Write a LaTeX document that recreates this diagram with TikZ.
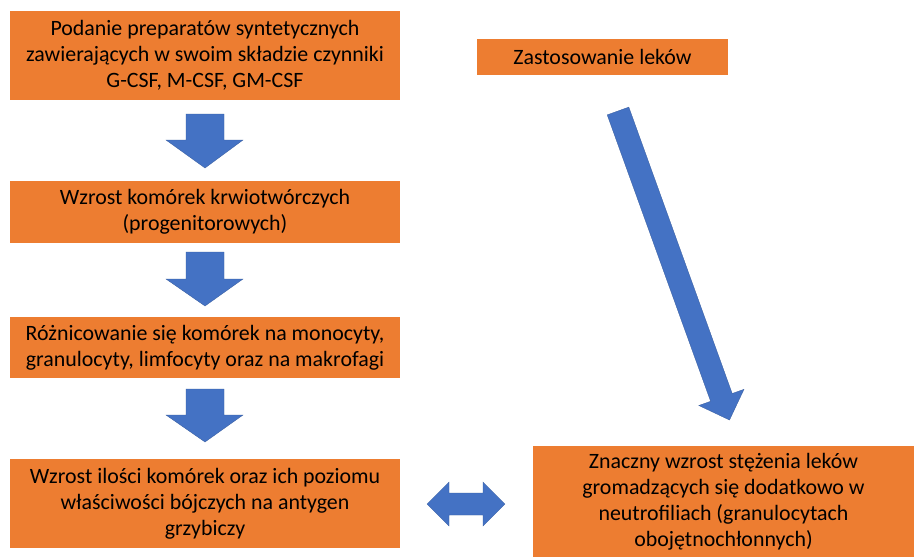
\documentclass[tikz,border=0pt]{standalone}
\usepackage{fontspec}
\setmainfont{Carlito}
\definecolor{boxorange}{HTML}{ED7D31}
\definecolor{arrowblue}{HTML}{4472C4}
\begin{document}
\begin{tikzpicture}[x=1pt,y=-1pt,
  box/.style={fill=boxorange, draw=none, inner sep=0pt, align=center,
    font=\fontsize{21.9}{26}\selectfont, text=black},
  blockarrow/.style={fill=arrowblue, draw=arrowblue!80!black, line width=0.3pt, line join=miter}]
\useasboundingbox (0,0) rectangle (914,557);
\fill[white] (0,0) rectangle (914,557);
% boxes
\node[box, minimum width=390pt, minimum height=89pt] (b1) at (205,55.5)
  {Podanie preparatów syntetycznych\\zawierających w swoim składzie czynniki\\G-CSF, M-CSF, GM-CSF};
\node[box, minimum width=390pt, minimum height=62pt] (b2) at (205,212)
  {Wzrost komórek krwiotwórczych\\(progenitorowych)};
\node[box, minimum width=390pt, minimum height=61pt] (b3) at (205,347.5)
  {Różnicowanie się komórek na monocyty,\\granulocyty, limfocyty oraz na makrofagi};
\node[box, minimum width=390pt, minimum height=89pt] (b4) at (205,503.5)
  {Wzrost ilości komórek oraz ich poziomu\\właściwości bójczych na antygen\\grzybiczy};
\node[box, minimum width=251pt, minimum height=36pt] (b5) at (602.5,57)
  {Zastosowanie leków};
\node[box, minimum width=381pt, minimum height=111pt] (b6) at (723.5,501.5)
  {Znaczny wzrost stężenia leków\\gromadzących się dodatkowo w\\neutrofiliach (granulocytach\\obojętnochłonnych)};
% down block arrows
\draw[blockarrow] (186,114) -- (224,114) -- (224,140) -- (243,140) -- (205,168)
  -- (166,140) -- (186,140) -- cycle;
\draw[blockarrow] (186,252) -- (224,252) -- (224,279) -- (243,279) -- (205,306)
  -- (166,279) -- (186,279) -- cycle;
\draw[blockarrow] (186,389) -- (224,389) -- (224,415) -- (243,415) -- (205,442)
  -- (166,415) -- (186,415) -- cycle;
% diagonal block arrow
\draw[blockarrow] (607.2,114.9) -- (628.8,107.1) -- (732.2,393.5) -- (744.0,389.3)
  -- (729.5,420) -- (698.8,405.5) -- (710.6,401.3) -- cycle;
% double block arrow
\draw[blockarrow] (427,504) -- (449,482) -- (449,493) -- (483,493) -- (483,482)
  -- (505,504) -- (483,526) -- (483,515) -- (449,515) -- (449,526) -- cycle;
\end{tikzpicture}
\end{document}
